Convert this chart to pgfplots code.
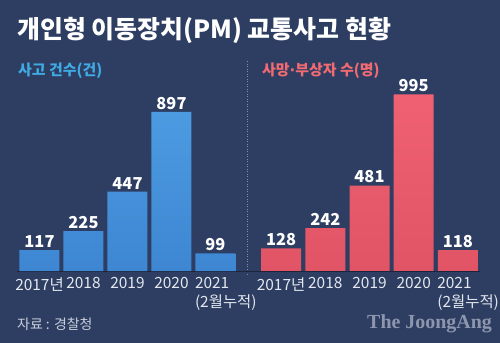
\documentclass[border=0pt]{standalone}
\usepackage{pgfplots}
\pgfplotsset{compat=1.18}
\usepackage{fontspec}
\setmainfont{Noto Sans CJK KR}
\newfontfamily\jaserif{Liberation Serif}
\newfontfamily\dejavu{DejaVu Sans}
\definecolor{bg}{HTML}{2D3E62}
\definecolor{bluetop}{HTML}{4C9BE1}
\definecolor{bluebot}{HTML}{3E86D2}
\definecolor{pinktop}{HTML}{EF6173}
\definecolor{pinkbot}{HTML}{E05466}
\definecolor{subblue}{HTML}{3FAAE3}
\definecolor{subpink}{HTML}{F26A72}
\definecolor{lbl}{HTML}{E4E7EE}
\definecolor{foot}{HTML}{C9CEDA}
\definecolor{logo}{HTML}{8E96AE}
\definecolor{divider}{HTML}{7D8CAB}
\tikzset{yr/.style={text=lbl, inner sep=0pt, font=\fontsize{15.5}{18.5}\selectfont}}
\pgfplotsset{
  panel/.style={
    scale only axis, width=220bp, height=177.5bp,
    xmin=-0.5, xmax=4.5, ymin=0, ymax=1000,
    axis lines=none, ticks=none, clip=false,
    /pgf/number format/assume math mode=true,
    ybar, bar width=40bp,
    nodes near coords,
    every node near coord/.append style={font=\fontsize{16.5}{16}\selectfont\bfseries, text=white, yshift=-1bp},
  },
}
\begin{document}
\begin{tikzpicture}
\fill[bg] (0bp,0bp) rectangle (500bp,343bp);
\useasboundingbox (0bp,0bp) rectangle (500bp,343bp);
% title
\node[anchor=west, text=white, inner sep=0pt] at (17bp,313bp) {\fontsize{25}{25}\selectfont\bfseries 개인형 이동장치(PM) 교통사고 현황};
\node[anchor=west, text=subblue, inner sep=0pt] at (18bp,272bp) {\fontsize{15}{16}\selectfont\bfseries 사고 건수(건)};
\node[anchor=west, text=subpink, inner sep=0pt] at (262bp,272bp) {\fontsize{15}{16}\selectfont\bfseries 사망{\dejavu\bfseries ·}부상자 수(명)};
\draw[divider, line width=0.8bp, dash pattern=on 1bp off 1.5bp] (247.5bp,68bp) -- (247.5bp,283bp);
\draw[black!40!bg, line width=1.2bp] (17bp,71.3bp) -- (480bp,71.3bp);
% left panel
\begin{axis}[panel, at={(17.5bp,72bp)}, anchor=south west]
\addplot[draw=none, top color=bluetop, bottom color=bluebot] coordinates {(0,117) (1,225) (2,447) (3,897) (4,99)};
\node[yr, anchor=north] at (axis cs:0,-35) {2017년};
\node[yr, anchor=north] at (axis cs:1,-35) {2018};
\node[yr, anchor=north] at (axis cs:2,-35) {2019};
\node[yr, anchor=north] at (axis cs:3,-35) {2020};
\node[yr, anchor=north west, align=left] at (axis cs:3.53,-35) {2021\\(2월누적)};
\end{axis}
% right panel
\begin{axis}[panel, width=221bp, at={(259bp,72bp)}, anchor=south west]
\addplot[draw=none, top color=pinktop, bottom color=pinkbot] coordinates {(0,128) (1,242) (2,481) (3,995) (4,118)};
\node[yr, anchor=north] at (axis cs:0,-35) {2017년};
\node[yr, anchor=north] at (axis cs:1,-35) {2018};
\node[yr, anchor=north] at (axis cs:2,-35) {2019};
\node[yr, anchor=north] at (axis cs:3,-35) {2020};
\node[yr, anchor=north west, align=left] at (axis cs:3.53,-35) {2021\\(2월누적)};
\end{axis}
% footer
\node[anchor=west, text=foot, inner sep=0pt] at (17bp,19bp) {\fontsize{14}{14}\selectfont 자료 : 경찰청};
\node[anchor=east, text=logo, inner sep=0pt] at (492bp,19bp) {\fontsize{20}{20}\selectfont\jaserif\bfseries The JoongAng};
\end{tikzpicture}
\end{document}
